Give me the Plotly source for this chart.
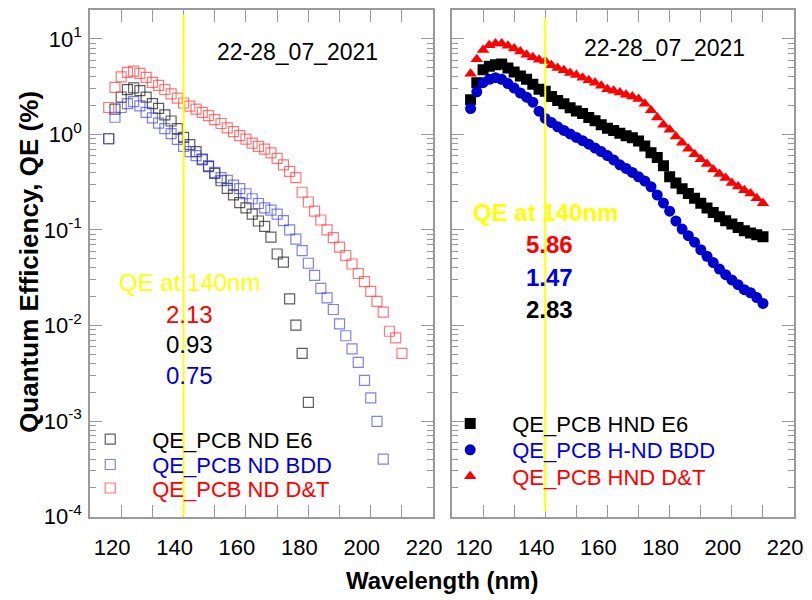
import plotly.graph_objects as go

# ---------------- data ----------------
# Left panel (ND samples) - open squares
WL_ND_E6 = [116, 118, 120, 122, 124, 126, 128, 130, 132, 134, 136, 138, 140, 142, 144, 146, 148,
            150, 152, 154, 156, 158, 160, 162, 164, 166, 168, 170, 172, 174, 176, 178, 180]
QE_ND_E6 = [0.90, 1.84, 2.46, 2.94, 3.06, 2.87, 2.45, 2.10, 1.87, 1.60,
            1.38, 1.15, 0.93, 0.78, 0.66, 0.55, 0.46, 0.39, 0.327, 0.272,
            0.233, 0.193, 0.170, 0.146, 0.124, 0.109, 0.084, 0.056, 0.046, 0.019,
            0.0101, 0.0051, 0.00157]

WL_ND_BDD = [116, 118, 120, 122, 124, 126, 128, 130, 132, 134, 136, 138, 140, 142, 144, 146, 148,
             150, 152, 154, 156, 158, 160, 162, 164, 166, 168, 170, 172, 174, 176, 178, 180, 182,
             184, 186, 188, 190, 192, 194, 196, 198, 200, 202, 204]
QE_ND_BDD = [0.90, 1.51, 1.91, 2.10, 2.20, 1.99, 1.70, 1.49, 1.31, 1.15,
             1.02, 0.885, 0.75, 0.66, 0.60, 0.54, 0.47, 0.40, 0.353, 0.33,
             0.295, 0.27, 0.239, 0.212, 0.189, 0.170, 0.161, 0.146, 0.125, 0.100,
             0.080, 0.0606, 0.0448, 0.0335, 0.0245, 0.0194, 0.0147, 0.0104, 0.0078, 0.0057,
             0.0041, 0.00266, 0.00175, 0.00099, 0.0004]

WL_ND_DT = [116, 118, 120, 122, 124, 126, 128, 130, 132, 134, 136, 138, 140, 142, 144, 146, 148,
            150, 152, 154, 156, 158, 160, 162, 164, 166, 168, 170, 172, 174, 176, 178, 180, 182,
            184, 186, 188, 190, 192, 194, 196, 198, 200, 202, 204, 206, 208, 210]
QE_ND_DT = [1.91, 3.10, 4.00, 4.45, 4.60, 4.35, 3.95, 3.50, 3.25, 2.95,
            2.65, 2.40, 2.13, 1.98, 1.84, 1.70, 1.57, 1.43, 1.30, 1.17,
            1.07, 0.97, 0.89, 0.81, 0.75, 0.70, 0.64, 0.56, 0.48, 0.41,
            0.353, 0.248, 0.196, 0.157, 0.127, 0.100, 0.083, 0.066, 0.054, 0.044,
            0.035, 0.0287, 0.0227, 0.0179, 0.0138, 0.0087, 0.0074, 0.0051]

# Right panel (HND samples) - filled markers
WL_HND = [116, 118, 120, 122, 124, 126, 128, 130, 132, 134, 136, 138, 140, 142, 144, 146, 148,
          150, 152, 154, 156, 158, 160, 162, 164, 166, 168, 170, 172, 174, 176, 178, 180, 182,
          184, 186, 188, 190, 192, 194, 196, 198, 200, 202, 204, 206, 208, 210]
QE_HND_E6 = [2.30, 3.48, 4.76, 5.16, 5.36, 5.45, 4.96, 4.50, 4.08, 3.77,
             3.35, 2.97, 2.83, 2.49, 2.26, 2.09, 1.90, 1.76, 1.65, 1.50,
             1.39, 1.26, 1.16, 1.10, 1.03, 0.97, 0.92, 0.85, 0.754, 0.644,
             0.573, 0.47, 0.36, 0.31, 0.27, 0.24, 0.215, 0.19, 0.17, 0.152,
             0.137, 0.125, 0.115, 0.106, 0.098, 0.093, 0.089, 0.085]
QE_HND_BDD = [1.86, 2.79, 3.48, 3.77, 3.92, 3.77, 3.40, 3.05, 2.71, 2.45,
              2.17, 1.75, 1.47, 1.33, 1.20, 1.10, 1.01, 0.93, 0.86, 0.79,
              0.72, 0.66, 0.60, 0.54, 0.48, 0.44, 0.40, 0.36, 0.325, 0.283,
              0.232, 0.191, 0.157, 0.124, 0.102, 0.087, 0.0744, 0.062, 0.053, 0.0455,
              0.0389, 0.034, 0.030, 0.0267, 0.0237, 0.022, 0.0196, 0.017]
QE_HND_DT = [4.30, 6.13, 7.62, 8.58, 8.93, 8.93, 8.45, 7.93, 7.36, 6.80,
             6.43, 6.04, 5.86, 5.28, 4.96, 4.70, 4.40, 4.17, 3.92, 3.68,
             3.48, 3.22, 2.97, 2.86, 2.75, 2.60, 2.49, 2.35, 2.09, 1.79,
             1.50, 1.26, 1.12, 0.95, 0.815, 0.708, 0.62, 0.55, 0.49, 0.43,
             0.385, 0.35, 0.31, 0.285, 0.26, 0.24, 0.215, 0.19]

NAMES_LEFT = ["QE_PCB ND E6", "QE_PCB ND BDD", "QE_PCB ND D&T"]
NAMES_RIGHT = ["QE_PCB HND E6", "QE_PCB H-ND BDD", "QE_PCB HND D&T"]
DATE_LABEL = "22-28_07_2021"
REF_WL = 140
QE140_LEFT = ["2.13", "0.93", "0.75"]      # red, black, blue
QE140_RIGHT = ["5.86", "1.47", "2.83"]     # red, blue, black

X_TICKS = [120, 130, 140, 150, 160, 170, 180, 190, 200, 210, 220]
X_TICKTEXT = ["120", "", "140", "", "160", "", "180", "", "200", "", "220"]
Y_TICKS = [1e-4, 1e-3, 1e-2, 1e-1, 1e0, 1e1]
Y_TICKTEXT = ["10<sup>-4</sup>", "10<sup>-3</sup>", "10<sup>-2</sup>",
              "10<sup>-1</sup>", "10<sup>0</sup>", "10<sup>1</sup>"]
Y_MINOR = [m * d for d in [1e-4, 1e-3, 1e-2, 1e-1, 1e0, 1e1] for m in range(2, 10)]

# ---------------- styling ----------------
FONT = "Liberation Sans, Arial, sans-serif"
AX_COL = "#9a9a9a"
RED = "#ff0000"
BLUE = "#0000dd"
YELLOW = "#ffff00"

fig = go.Figure()

def add(x, y, name, xa, ya, legend, symbol, color, size, lw=0):
    fig.add_trace(go.Scatter(
        x=x, y=y, mode="markers", name=name, xaxis=xa, yaxis=ya, legend=legend,
        marker=dict(symbol=symbol, size=size, color=color,
                    line=dict(width=lw, color=color)),
    ))

add(WL_ND_E6, QE_ND_E6, NAMES_LEFT[0], "x", "y", "legend", "square-open", "rgba(40,40,40,0.75)", 10, 1.2)
add(WL_ND_BDD, QE_ND_BDD, NAMES_LEFT[1], "x", "y", "legend2", "square-open", "rgba(60,60,230,0.65)", 10, 1.2)
add(WL_ND_DT, QE_ND_DT, NAMES_LEFT[2], "x", "y", "legend3", "square-open", "rgba(255,60,60,0.7)", 10, 1.2)
add(WL_HND, QE_HND_E6, NAMES_RIGHT[0], "x2", "y2", "legend4", "square", "#000000", 11)
add(WL_HND, QE_HND_BDD, NAMES_RIGHT[1], "x2", "y2", "legend5", "circle", "#0000cc", 11)
add(WL_HND, QE_HND_DT, NAMES_RIGHT[2], "x2", "y2", "legend6", "triangle-up", RED, 11)

W, H = 812, 600
L_DOM = [91 / W, 438 / W]
R_DOM = [457 / W, 803 / W]
Y_DOM = [1 - 528 / H, 1 - 10 / H]

def xaxis(domain, anchor):
    return dict(domain=domain, anchor=anchor, range=[110, 220], tickmode="array",
                tickvals=X_TICKS, ticktext=X_TICKTEXT, ticks="inside", ticklen=12,
                tickwidth=1.3, tickcolor=AX_COL, showline=True, linecolor=AX_COL,
                linewidth=1.5, mirror="allticks", showgrid=False, zeroline=False,
                tickfont=dict(family=FONT, size=22, color="black"),
                ticklabelshift=-9, ticklabelstandoff=10)

def yaxis(anchor, labels):
    return dict(domain=Y_DOM, anchor=anchor, type="log", range=[-4, 1.304],
                tickmode="array", tickvals=Y_TICKS, ticktext=Y_TICKTEXT,
                showticklabels=labels, ticks="inside", ticklen=12, tickwidth=1.3,
                tickcolor=AX_COL, showline=True, linecolor=AX_COL, linewidth=1.5,
                mirror="allticks", showgrid=False, zeroline=False,
                tickfont=dict(family=FONT, size=22, color="black"),
                ticklabelstandoff=2,
                minor=dict(tickmode="array", tickvals=Y_MINOR, ticks="inside",
                           ticklen=6, tickwidth=1.1, tickcolor=AX_COL, showgrid=False))

def legend(xpx, ypx, color):
    return dict(x=xpx / W, y=1 - ypx / H, xanchor="left", yanchor="middle",
                bgcolor="rgba(0,0,0,0)", borderwidth=0, itemwidth=74,
                font=dict(family=FONT, size=22, color=color))

annotations = []
def ann(text, xd, yd, xref, yref, color, size, bold=False):
    annotations.append(dict(
        text=f"<b>{text}</b>" if bold else text, x=xd, y=yd, xref=xref, yref=yref,
        showarrow=False, xanchor="center", yanchor="middle",
        font=dict(family=FONT, size=size, color=color)))

# left panel texts
ann(DATE_LABEL, 0.605, 0.917, "x domain", "y domain", "black", 23)
ann("QE at 140nm", 0.29, 0.461, "x domain", "y domain", YELLOW, 24)
ann(QE140_LEFT[0], 0.29, 0.399, "x domain", "y domain", RED, 24)
ann(QE140_LEFT[1], 0.29, 0.339, "x domain", "y domain", "black", 24)
ann(QE140_LEFT[2], 0.29, 0.279, "x domain", "y domain", BLUE, 24)
# right panel texts
ann(DATE_LABEL, 0.621, 0.925, "x2 domain", "y2 domain", "black", 23)
ann("QE at 140nm", 0.273, 0.600, "x2 domain", "y2 domain", YELLOW, 24, True)
ann(QE140_RIGHT[0], 0.286, 0.536, "x2 domain", "y2 domain", RED, 24, True)
ann(QE140_RIGHT[1], 0.286, 0.471, "x2 domain", "y2 domain", BLUE, 24, True)
ann(QE140_RIGHT[2], 0.286, 0.408, "x2 domain", "y2 domain", "black", 24, True)
# axis titles
annotations.append(dict(text="<b>Wavelength (nm)</b>", x=447 / W, y=1 - 593 / H,
                        xref="paper", yref="paper", showarrow=False,
                        xanchor="center", yanchor="middle",
                        font=dict(family=FONT, size=24, color="black")))
annotations.append(dict(text="<b>Quantum Efficiency, QE (%)</b>", x=30 / W, y=1 - 268 / H,
                        xref="paper", yref="paper", showarrow=False, textangle=-90,
                        xanchor="center", yanchor="middle",
                        font=dict(family=FONT, size=26, color="black")))

shapes = [
    dict(type="line", xref="x", yref="y domain", x0=REF_WL, x1=REF_WL, y0=0, y1=0.99,
         line=dict(color=YELLOW, width=2), layer="above"),
    dict(type="line", xref="x2", yref="y2 domain", x0=REF_WL, x1=REF_WL, y0=0.01, y1=0.985,
         line=dict(color=YELLOW, width=2), layer="above"),
]

fig.update_layout(
    width=W, height=H, margin=dict(l=0, r=0, t=0, b=0),
    paper_bgcolor="white", plot_bgcolor="white",
    font=dict(family=FONT, size=22, color="black"),
    xaxis=xaxis(L_DOM, "y"), yaxis=yaxis("x", True),
    xaxis2=xaxis(R_DOM, "y2"), yaxis2=yaxis("x2", False),
    legend=legend(69, 449, "black"),
    legend2=legend(69, 475, BLUE),
    legend3=legend(69, 499, RED),
    legend4=legend(433, 433, "black"),
    legend5=legend(433, 460, BLUE),
    legend6=legend(433, 487, RED),
    annotations=annotations, shapes=shapes, showlegend=True,
)

fig.write_html("out.html")
